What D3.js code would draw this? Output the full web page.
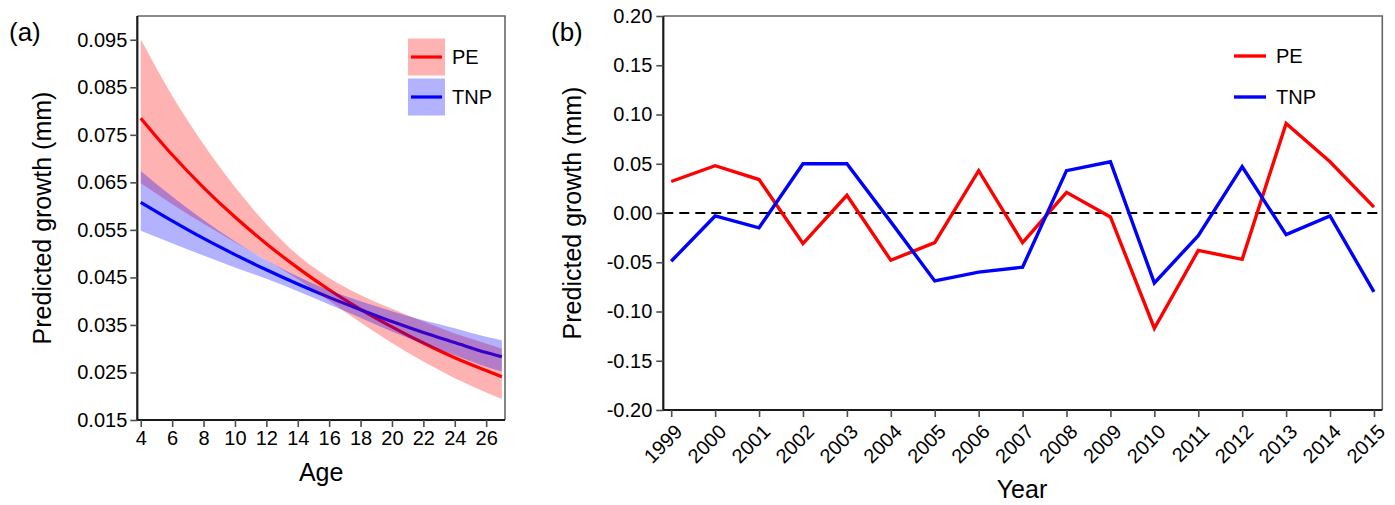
<!DOCTYPE html>
<html>
<head>
<meta charset="utf-8">
<script src="https://cdn.jsdelivr.net/npm/d3@7"></script>
<style>
  html, body { margin: 0; padding: 0; background: #fff; }
  svg { display: block; font-family: "Liberation Sans", Arial, sans-serif; }
</style>
</head>
<body>
<svg id="chart" width="1395" height="505"></svg>
<script>
// ---------- Panel (a) data ----------
const ages = [4, 6, 8, 10, 12, 14, 16, 18, 20, 22, 24, 26, 27];
const peMean  = [0.0785, 0.0708, 0.0639, 0.0577, 0.0521, 0.0470, 0.0424, 0.0383, 0.0346, 0.0312, 0.0281, 0.0254, 0.0241];
const peUpper = [0.0951, 0.0832, 0.0730, 0.0640, 0.0562, 0.0497, 0.0449, 0.0413, 0.0384, 0.0357, 0.0332, 0.0311, 0.0300];
const peLower = [0.0648, 0.0604, 0.0563, 0.0524, 0.0486, 0.0446, 0.0401, 0.0355, 0.0312, 0.0273, 0.0238, 0.0208, 0.0194];
const tnpMean  = [0.0608, 0.0569, 0.0532, 0.0498, 0.0466, 0.0436, 0.0408, 0.0382, 0.0357, 0.0334, 0.0313, 0.0292, 0.0283];
const tnpUpper = [0.0674, 0.0620, 0.0571, 0.0526, 0.0486, 0.0452, 0.0423, 0.0400, 0.0379, 0.0360, 0.0343, 0.0325, 0.0318];
const tnpLower = [0.0548, 0.0522, 0.0496, 0.0471, 0.0447, 0.0421, 0.0393, 0.0365, 0.0336, 0.0310, 0.0286, 0.0262, 0.0252];
const ageTicks = [4, 6, 8, 10, 12, 14, 16, 18, 20, 22, 24, 26];
const growthTicksA = [0.015, 0.025, 0.035, 0.045, 0.055, 0.065, 0.075, 0.085, 0.095];

// ---------- Panel (b) data ----------
const years = [1999, 2000, 2001, 2002, 2003, 2004, 2005, 2006, 2007, 2008, 2009, 2010, 2011, 2012, 2013, 2014, 2015];
const peYear  = [0.032, 0.048, 0.034, -0.031, 0.018, -0.048, -0.030, 0.043, -0.030, 0.021, -0.004, -0.117, -0.038, -0.047, 0.091, 0.052, 0.006];
const tnpYear = [-0.049, -0.003, -0.015, 0.050, 0.050, -0.009, -0.069, -0.060, -0.055, 0.043, 0.052, -0.071, -0.023, 0.047, -0.022, -0.003, -0.080];
const growthTicksB = [-0.20, -0.15, -0.10, -0.05, 0.00, 0.05, 0.10, 0.15, 0.20];

const seriesNames = ["PE", "TNP"];
const lineColors = ["#FF0000", "#0000FF"];

const svg = d3.select("#chart");
const FONT_TICK = 20;
const FONT_TITLE = 25;

function styleAxis(g) {
  g.select(".domain").remove();
  g.selectAll(".tick line").attr("stroke", "#4d4d4d").attr("stroke-width", 1.6);
  g.selectAll(".tick text").attr("fill", "#000").style("font-size", FONT_TICK + "px");
}

function frame(g, x0, x1, y0, y1) {
  g.append("path").attr("d", `M${x0},${y0}H${x1}V${y1}`)
    .attr("fill", "none").attr("stroke", "#666").attr("stroke-width", 1.6);
  g.append("path").attr("d", `M${x0},${y0}V${y1}H${x1}`)
    .attr("fill", "none").attr("stroke", "#1a1a1a").attr("stroke-width", 2.2);
}

// ================= Panel (a) =================
{
  const L = 137.3, R = 505, T = 16, B = 420;
  const x = d3.scaleLinear().domain([3.78, 27.2]).range([L, R]);
  const y = d3.scaleLinear().domain([0.015, 0.1]).range([B, T]);
  const g = svg.append("g");

  const line = d3.line().x(d => x(d[0])).y(d => y(d[1])).curve(d3.curveMonotoneX);
  const area = d3.area().x(d => x(d[0])).y0(d => y(d[1])).y1(d => y(d[2])).curve(d3.curveMonotoneX);

  const means = [peMean, tnpMean];
  const lows = [peLower, tnpLower];
  const ups = [peUpper, tnpUpper];

  means.forEach((m, i) => {
    g.append("path").datum(ages.map((a, j) => [a, m[j]]))
      .attr("d", line).attr("fill", "none")
      .attr("stroke", lineColors[i]).attr("stroke-width", 3.2);
  });
  lows.forEach((lo, i) => {
    g.append("path").datum(ages.map((a, j) => [a, lo[j], ups[i][j]]))
      .attr("d", area).attr("fill", lineColors[i]).attr("fill-opacity", 0.3);
  });

  frame(g, L, R, T, B);

  g.append("g").attr("transform", `translate(${L},0)`)
    .call(d3.axisLeft(y).tickValues(growthTicksA).tickFormat(d3.format(".3f")).tickSize(7).tickPadding(3))
    .call(styleAxis);
  g.append("g").attr("transform", `translate(0,${B})`)
    .call(d3.axisBottom(x).tickValues(ageTicks).tickFormat(d3.format("d")).tickSize(7).tickPadding(4))
    .call(styleAxis);

  const lg = g.append("g");
  seriesNames.forEach((n, i) => {
    const cy = 57 + i * 40;
    lg.append("rect").attr("x", 408).attr("y", cy - 18.5).attr("width", 37).attr("height", 37)
      .attr("fill", lineColors[i]).attr("fill-opacity", 0.3);
    lg.append("line").attr("x1", 411).attr("x2", 442).attr("y1", cy).attr("y2", cy)
      .attr("stroke", lineColors[i]).attr("stroke-width", 3.2);
    lg.append("text").attr("x", 452).attr("y", cy).attr("dy", "0.35em")
      .style("font-size", FONT_TICK + "px").text(n);
  });

  g.append("text").attr("x", 9).attr("y", 32).attr("dy", "0.35em")
    .style("font-size", "26px").text("(a)");
  g.append("text").attr("transform", `translate(42,${(T + B) / 2}) rotate(-90)`)
    .attr("text-anchor", "middle").attr("dy", "0.35em")
    .style("font-size", FONT_TITLE + "px").text("Predicted growth (mm)");
  g.append("text").attr("x", (L + R) / 2).attr("y", 481)
    .attr("text-anchor", "middle").style("font-size", FONT_TITLE + "px").text("Age");
}

// ================= Panel (b) =================
{
  const L = 663.3, R = 1382.3, T = 16, B = 410;
  const x = d3.scaleLinear().domain([1998.82, 2015.19]).range([L, R]);
  const y = d3.scaleLinear().domain([-0.2, 0.2]).range([B, T]);
  const g = svg.append("g");

  g.append("line").attr("x1", L).attr("x2", R).attr("y1", y(0)).attr("y2", y(0))
    .attr("stroke", "#000").attr("stroke-width", 2).attr("stroke-dasharray", "10,6");

  const line = d3.line().x(d => x(d[0])).y(d => y(d[1]));
  [peYear, tnpYear].forEach((vals, i) => {
    g.append("path").datum(years.map((yr, j) => [yr, vals[j]]))
      .attr("d", line).attr("fill", "none")
      .attr("stroke", lineColors[i]).attr("stroke-width", 3.4)
      .attr("stroke-linejoin", "miter");
  });

  frame(g, L, R, T, B);

  const fmt = v => { const s = v.toFixed(2); return s === "-0.00" ? "0.00" : s; };
  g.append("g").attr("transform", `translate(${L},0)`)
    .call(d3.axisLeft(y).tickValues(growthTicksB).tickFormat(fmt).tickSize(7).tickPadding(4))
    .call(styleAxis);
  const xa = g.append("g").attr("transform", `translate(0,${B})`)
    .call(d3.axisBottom(x).tickValues(years).tickFormat(d3.format("d")).tickSize(7).tickPadding(4))
    .call(styleAxis);
  xa.selectAll(".tick text")
    .attr("text-anchor", "end")
    .attr("x", 0).attr("y", 0).attr("dy", "0.35em")
    .attr("transform", "translate(7,18) rotate(-45)");

  const lg = g.append("g");
  seriesNames.forEach((n, i) => {
    const cy = 56 + i * 41;
    lg.append("line").attr("x1", 1234).attr("x2", 1266).attr("y1", cy).attr("y2", cy)
      .attr("stroke", lineColors[i]).attr("stroke-width", 3.4);
    lg.append("text").attr("x", 1276).attr("y", cy).attr("dy", "0.35em")
      .style("font-size", FONT_TICK + "px").text(n);
  });

  g.append("text").attr("x", 551).attr("y", 32).attr("dy", "0.35em")
    .style("font-size", "26px").text("(b)");
  g.append("text").attr("transform", `translate(572,${(T + B) / 2}) rotate(-90)`)
    .attr("text-anchor", "middle").attr("dy", "0.35em")
    .style("font-size", FONT_TITLE + "px").text("Predicted growth (mm)");
  g.append("text").attr("x", 1022).attr("y", 498)
    .attr("text-anchor", "middle").style("font-size", FONT_TITLE + "px").text("Year");
}
</script>
</body>
</html>
